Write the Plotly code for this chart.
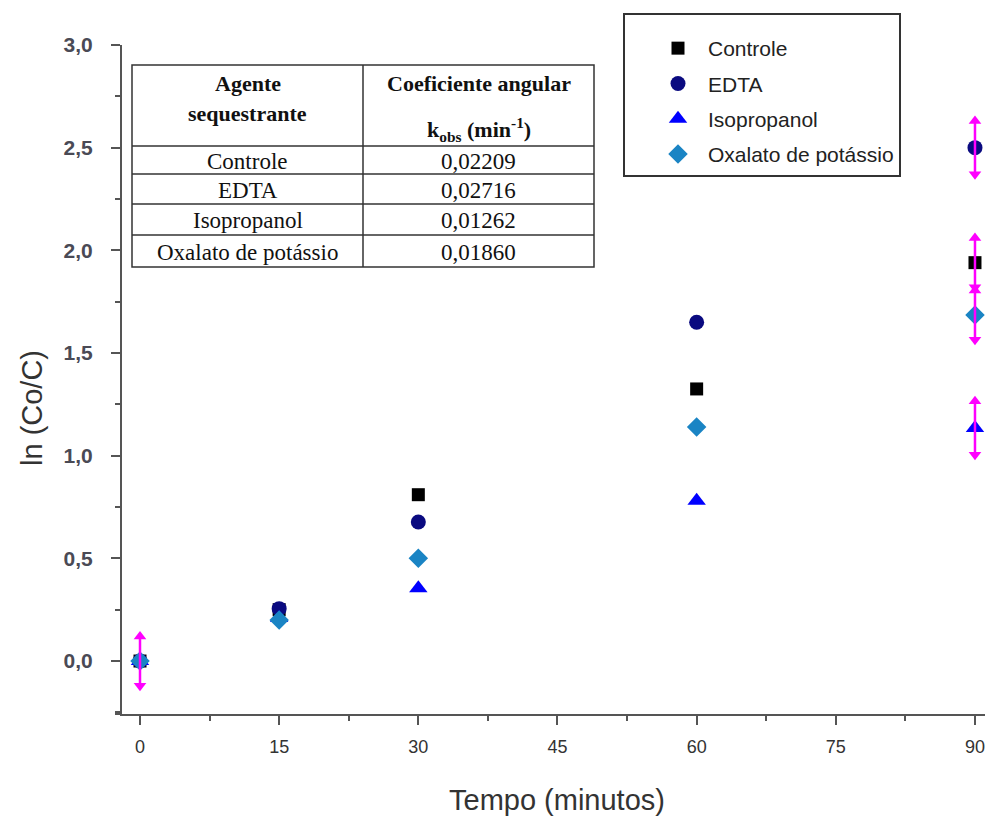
import plotly.graph_objects as go

# ---------------- data ----------------
tempo = [0, 15, 30, 60, 90]
series_names = ["Controle", "EDTA", "Isopropanol", "Oxalato de potássio"]
controle = [0.0, 0.25, 0.81, 1.325, 1.94]
edta = [0.0, 0.255, 0.677, 1.65, 2.50]
isopropanol = [0.0, 0.21, 0.355, 0.78, 1.135]
oxalato = [0.0, 0.20, 0.50, 1.14, 1.685]
# arrow-style error bars (0 = none)
err_controle = [0, 0, 0, 0, 0.12]
err_edta = [0, 0, 0, 0, 0.13]
err_isopropanol = [0, 0, 0, 0, 0.13]
err_oxalato = [0.12, 0, 0, 0, 0.12]

table_agents = ["Controle", "EDTA", "Isopropanol", "Oxalato de potássio"]
table_kobs = ["0,02209", "0,02716", "0,01262", "0,01860"]

yticks = [0.0, 0.5, 1.0, 1.5, 2.0, 2.5, 3.0]
xticks = [0, 15, 30, 45, 60, 75, 90]

# ---------------- layout geometry (pixels) ----------------
W, H = 985, 817
L, R, T, B = 122, 985, 45, 714


def px(x):
    return (x - L) / (R - L)


def py(y):
    return (B - y) / (B - T)


fig = go.Figure()

styles = [
    dict(symbol="square", size=13, color="#000000"),
    dict(symbol="circle", size=15, color="#0a0a80"),
    dict(symbol="triangle-up", size=16, color="#0000ff"),
    dict(symbol="diamond", size=15, color="#1a84c4"),
]
datasets = [controle, edta, isopropanol, oxalato]
errs = [err_controle, err_edta, err_isopropanol, err_oxalato]

for i, (name, ys, st) in enumerate(zip(series_names, datasets, styles)):
    fig.add_trace(go.Scatter(
        x=tempo, y=ys, mode="markers", name=name,
        legendgroup=f"g{i}",
        marker=dict(symbol=st["symbol"], size=st["size"], color=st["color"],
                    line=dict(width=0)),
        cliponaxis=False,
    ))

# error arrows (drawn on top)
lx, ly, ux, uy, dx, dy = [], [], [], [], [], []
for ys, es in zip(datasets, errs):
    for t, v, e in zip(tempo, ys, es):
        if e:
            lx += [t, t, None]
            ly += [v - e, v + e, None]
            ux.append(t); uy.append(v + e)
            dx.append(t); dy.append(v - e)
fig.add_trace(go.Scatter(x=lx, y=ly, mode="lines", showlegend=False,
                         line=dict(color="#ff00ff", width=2.5), cliponaxis=False,
                         hoverinfo="skip"))
fig.add_trace(go.Scatter(x=ux, y=uy, mode="markers", showlegend=False,
                         marker=dict(symbol="triangle-up", size=11, color="#ff00ff"),
                         cliponaxis=False, hoverinfo="skip"))
fig.add_trace(go.Scatter(x=dx, y=dy, mode="markers", showlegend=False,
                         marker=dict(symbol="triangle-down", size=11, color="#ff00ff"),
                         cliponaxis=False, hoverinfo="skip"))

# ---------------- table drawn with shapes/annotations ----------------
tx0, tx1, tcol = 132, 594, 363
ty0 = 65
row_lines = [146, 174, 204, 235]
ty1 = 267
line_c = "#333333"
shapes = [
    dict(type="rect", xref="paper", yref="paper", x0=px(tx0), x1=px(tx1),
         y0=py(ty1), y1=py(ty0), line=dict(color=line_c, width=1.5),
         fillcolor="white", layer="below"),
    dict(type="line", xref="paper", yref="paper", x0=px(tcol), x1=px(tcol),
         y0=py(ty1), y1=py(ty0), line=dict(color=line_c, width=1.5)),
    # x-axis line slightly extends left of y axis
    dict(type="line", xref="paper", yref="paper", x0=px(115), x1=px(L),
         y0=0, y1=0, line=dict(color="#555555", width=2)),
]
for yy in row_lines:
    shapes.append(dict(type="line", xref="paper", yref="paper", x0=px(tx0), x1=px(tx1),
                       y0=py(yy), y1=py(yy), line=dict(color=line_c, width=1.5)))

tfont = dict(family="Liberation Serif, Times New Roman, serif", size=23, color="#111111")
hfont = dict(family="Liberation Serif, Times New Roman, serif", size=22, color="#111111")
annotations = []
c1 = (tx0 + tcol) / 2
c2 = (tcol + tx1) / 2


def add_text(text, xpix, ypix, font, **kw):
    annotations.append(dict(text=text, x=px(xpix), y=py(ypix), xref="paper", yref="paper",
                            showarrow=False, font=font, xanchor="center", yanchor="middle", **kw))


add_text("<b>Agente</b>", c1, 84, hfont)
add_text("<b>sequestrante</b>", c1, 114, hfont)
add_text("<b>Coeficiente angular</b>", c2, 84, hfont)
add_text("<b>k<sub>obs</sub> (min<sup>-1</sup>)</b>", c2, 129, hfont)
bounds = [146] + row_lines[1:] + [ty1]
for i, (a, k) in enumerate(zip(table_agents, table_kobs)):
    yc = (bounds[i] + bounds[i + 1]) / 2 + 1
    add_text(a, c1, yc, tfont)
    add_text(k, c2, yc, tfont)

# axis titles
add_text("ln (Co/C)", 32, 408, dict(family="Liberation Sans, Arial, sans-serif", size=29, color="#333333"),
         textangle=-90)
add_text("Tempo (minutos)", 557, 800, dict(family="Liberation Sans, Arial, sans-serif", size=29, color="#333333"))

axis_c = "#555555"
fig.update_layout(
    width=W, height=H,
    margin=dict(l=L, r=W - R, t=T, b=H - B, pad=0),
    paper_bgcolor="white", plot_bgcolor="white",
    separators=",.",
    shapes=shapes,
    annotations=annotations,
    showlegend=True,
    legend=dict(
        x=px(623), y=py(13), xanchor="left", yanchor="top",
        xref="paper", yref="paper",
        bgcolor="white", bordercolor="#333333", borderwidth=2,
        font=dict(family="Liberation Sans, Arial, sans-serif", size=21, color="#222222"),
        traceorder="grouped", tracegroupgap=5,
        indentation=23,
        itemwidth=50,
        title=dict(text=" ", font=dict(size=10)),
    ),
    xaxis=dict(
        range=[-1.94, 91.08], tickmode="array", tickvals=xticks,
        ticks="outside", ticklen=9, tickwidth=1.5, tickcolor=axis_c,
        showline=True, linecolor=axis_c, linewidth=2,
        showgrid=False, zeroline=False,
        tickfont=dict(family="Liberation Sans, Arial, sans-serif", size=18, color="#333333"),
        minor=dict(dtick=7.5, tick0=0, ticks="outside", ticklen=5, tickwidth=1.5, tickcolor=axis_c),
        ticklabelstandoff=6,
    ),
    yaxis=dict(
        range=[-0.258, 3.0], tickmode="array", tickvals=yticks, tickformat=".1f",
        ticks="outside", ticklen=9, tickwidth=1.5, tickcolor=axis_c,
        showline=True, linecolor=axis_c, linewidth=2,
        showgrid=False, zeroline=False,
        tickfont=dict(family="Liberation Sans, Arial, sans-serif", size=21, color="#4a4a55",
                      weight="bold"),
        minor=dict(dtick=0.25, tick0=0, ticks="outside", ticklen=5, tickwidth=1.5, tickcolor=axis_c),
        ticklabelstandoff=14,
    ),
)

fig.write_html("out.html")
